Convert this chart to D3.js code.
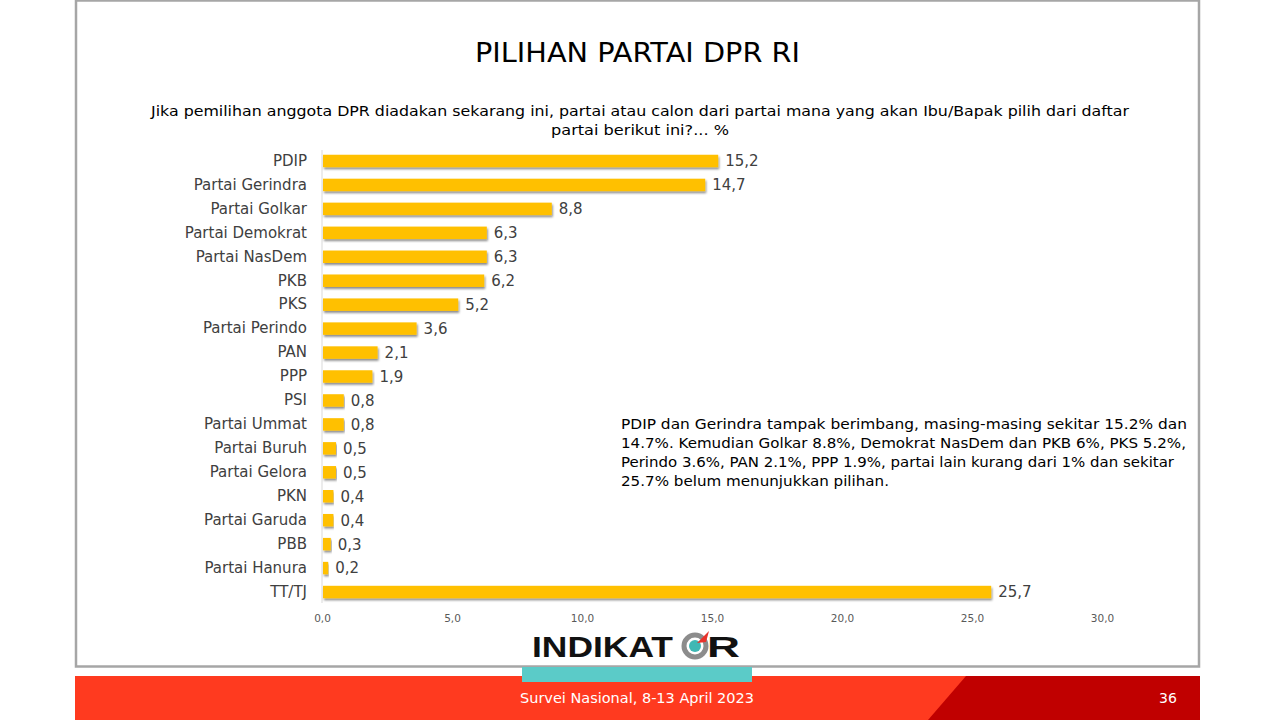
<!DOCTYPE html>
<html><head><meta charset="utf-8">
<script src="https://cdn.jsdelivr.net/npm/d3@7"></script>
<style>body{margin:0;background:#fff;}svg{display:block;font-family:"DejaVu Sans",sans-serif;}</style>
</head><body>
<svg id="c" width="1280" height="720"></svg>
<script>
const categories = ["PDIP","Partai Gerindra","Partai Golkar","Partai Demokrat","Partai NasDem","PKB","PKS","Partai Perindo","PAN","PPP","PSI","Partai Ummat","Partai Buruh","Partai Gelora","PKN","Partai Garuda","PBB","Partai Hanura","TT/TJ"];
const values = [15.2,14.7,8.8,6.3,6.3,6.2,5.2,3.6,2.1,1.9,0.8,0.8,0.5,0.5,0.4,0.4,0.3,0.2,25.7];
const tickValues = [0,5,10,15,20,25,30];
const title = "PILIHAN PARTAI DPR RI";
const subtitle = ["Jika pemilihan anggota DPR diadakan sekarang ini, partai atau calon dari partai mana yang akan Ibu/Bapak pilih dari daftar","partai berikut ini?... %"];
const note = ["PDIP dan Gerindra tampak berimbang, masing-masing sekitar 15.2% dan","14.7%. Kemudian Golkar 8.8%, Demokrat NasDem dan PKB 6%, PKS 5.2%,","Perindo 3.6%, PAN 2.1%, PPP 1.9%, partai lain kurang dari 1% dan sekitar","25.7% belum menunjukkan pilihan."];
const footer = "Survei Nasional, 8-13 April 2023";
const pageNo = "36";

const svg = d3.select("#c");
const fmt = v => v.toFixed(1).replace(".", ",");

// frame
svg.append("rect").attr("x",76).attr("y",0.5).attr("width",1123).attr("height",666).attr("fill","#fff").attr("stroke","#a6a6a6").attr("stroke-width",2.5);

// footer band
svg.append("rect").attr("x",75).attr("y",676).attr("width",1125).attr("height",44).attr("fill","#ff3a1f");
svg.append("path").attr("d","M966,676 L1200,676 L1200,720 L928,720 Z").attr("fill","#c00000");
svg.append("text").attr("x",520).attr("y",703).attr("fill","#fff").attr("font-size",14).attr("textLength",234).attr("lengthAdjust","spacingAndGlyphs").text(footer);
svg.append("text").attr("x",1168).attr("y",703).attr("text-anchor","middle").attr("fill","#fff").attr("font-size",14).text(pageNo);

// teal bar + logo
svg.append("rect").attr("x",522).attr("y",667).attr("width",230).attr("height",15).attr("fill","#5bcbc8");
const lg = svg.append("g");
lg.append("text").attr("x",532).attr("y",657).attr("font-size",30).attr("font-weight",700).attr("fill","#111").attr("font-family","'Liberation Sans',Arial,sans-serif").attr("textLength",141).attr("lengthAdjust","spacingAndGlyphs").text("INDIKAT");
lg.append("circle").attr("cx",695).attr("cy",646).attr("r",11).attr("fill","none").attr("stroke","#8c8c8c").attr("stroke-width",5);
lg.append("circle").attr("cx",695).attr("cy",646).attr("r",6).attr("fill","#3fb8b4");
lg.append("path").attr("d","M697,643 L709,631 L706,642 Z").attr("fill","#e8322a");
lg.append("text").attr("x",707).attr("y",657).attr("font-size",30).attr("font-weight",700).attr("fill","#111").attr("font-family","'Liberation Sans',Arial,sans-serif").attr("textLength",33).attr("lengthAdjust","spacingAndGlyphs").text("R");

// title
svg.append("text").attr("x",475).attr("y",62).attr("font-size",26).attr("fill","#000").attr("textLength",325).attr("lengthAdjust","spacingAndGlyphs").text(title);
const subW = [978, 178];
subtitle.forEach((s,i)=>svg.append("text").attr("x",640-subW[i]/2).attr("y",116+i*19).attr("font-size",14).attr("fill","#000").attr("textLength",subW[i]).attr("lengthAdjust","spacingAndGlyphs").text(s));

// chart
const x = d3.scaleLinear().domain([0,30]).range([322,1102]);
const y = d3.scaleBand().domain(categories).range([149,604]).paddingInner(0.48).paddingOuter(0.24);

svg.append("line").attr("x1",322).attr("x2",322).attr("y1",150).attr("y2",603).attr("stroke","#d9d9d9");

const xAxis = d3.axisBottom(x).tickValues(tickValues).tickFormat(fmt).tickSize(0);
const xg = svg.append("g").attr("transform","translate(0,612)").call(xAxis);
xg.select(".domain").remove();
xg.selectAll("text").attr("font-size",10.5).attr("fill","#595959").attr("font-family","DejaVu Sans,sans-serif");

const yAxis = d3.axisLeft(y).tickSize(0).tickPadding(15);
const yg = svg.append("g").attr("transform","translate(322,0)").call(yAxis);
yg.select(".domain").remove();
yg.selectAll("text").attr("font-size",15).attr("fill","#404040").attr("font-family","DejaVu Sans,sans-serif");

const defs = svg.append("defs");
const f = defs.append("filter").attr("id","sh").attr("x","-5%").attr("y","-50%").attr("width","110%").attr("height","220%");
f.append("feDropShadow").attr("dx",1).attr("dy",2).attr("stdDeviation",1).attr("flood-color","#000").attr("flood-opacity",0.45);

svg.append("g").selectAll("rect").data(values).join("rect")
  .attr("x",x(0)+1).attr("y",(d,i)=>y(categories[i]))
  .attr("width",d=>x(d)-x(0)).attr("height",y.bandwidth())
  .attr("fill","#ffc000").attr("filter","url(#sh)");

svg.append("g").selectAll("text").data(values).join("text")
  .attr("x",d=>x(d)+8).attr("y",(d,i)=>y(categories[i])+y.bandwidth()/2)
  .attr("dy","0.36em").attr("font-size",15).attr("fill","#404040").text(fmt);

const noteW = [566, 565, 553, 268];
note.forEach((s,i)=>svg.append("text").attr("x",621).attr("y",429+i*19).attr("font-size",14).attr("fill","#000").attr("textLength",noteW[i]).attr("lengthAdjust","spacingAndGlyphs").text(s));
</script>
</body></html>
